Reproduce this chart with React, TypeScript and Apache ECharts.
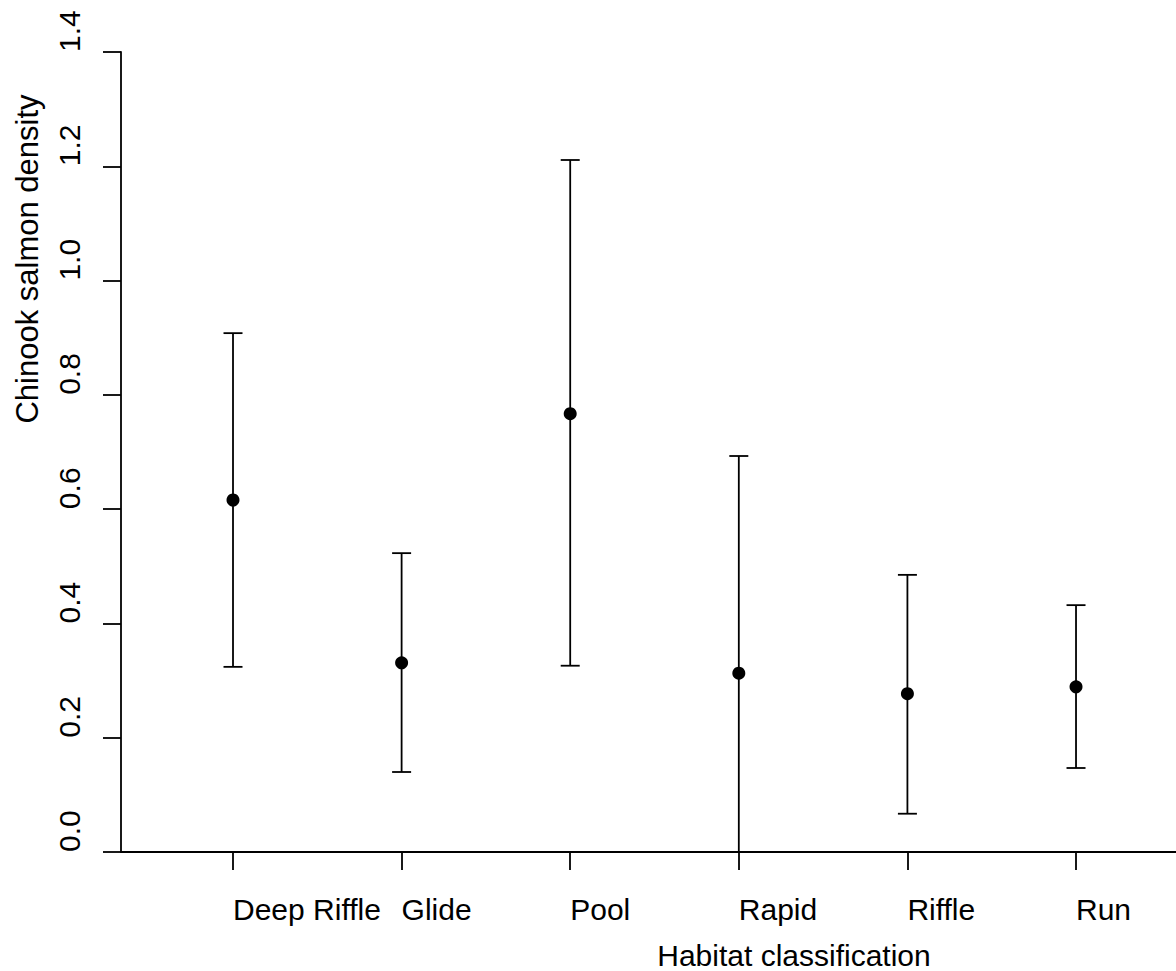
import React, { useEffect, useRef } from "react";
import * as echarts from "echarts";

const categories = ["Deep Riffle", "Glide", "Pool", "Rapid", "Riffle", "Run"];
const positions = [1, 2, 3, 4, 5, 6];
const means = [0.616, 0.331, 0.767, 0.313, 0.277, 0.289];
const lowers = [0.324, 0.14, 0.326, 0.0, 0.067, 0.147];
const uppers = [0.908, 0.523, 1.211, 0.693, 0.485, 0.432];
const yTicks = [0, 0.2, 0.4, 0.6, 0.8, 1.0, 1.2, 1.4];

const FONT = "Arial, 'Liberation Sans', Helvetica, sans-serif";

export default function App() {
  const ref = useRef<HTMLDivElement>(null);
  useEffect(() => {
    if (!ref.current) return;
    const chart = echarts.init(ref.current, null, { renderer: "svg" });
    const errData = positions.map((p, i) => [p, lowers[i], uppers[i]]);
    const ptData = positions.map((p, i) => [p, means[i]]);
    chart.setOption({
      animation: false,
      backgroundColor: "#ffffff",
      grid: { left: 121, top: 52, bottom: 119, right: 0, containLabel: false },
      xAxis: {
        type: "value",
        min: 0.3357,
        max: 6.593,
        splitLine: { show: false },
        axisLine: { show: true, lineStyle: { color: "#000", width: 1.8 } },
        axisTick: { show: true, customValues: positions, length: 18, lineStyle: { color: "#000", width: 1.8 } },
        axisLabel: {
          show: true,
          customValues: positions,
          formatter: (v: number) => categories[Math.round(v) - 1] ?? "",
          align: "left",
          verticalAlign: "top",
          margin: 42,
          color: "#000",
          fontSize: 30,
          fontFamily: FONT,
        },
      },
      yAxis: {
        type: "value",
        min: 0,
        max: 1.4,
        interval: 0.2,
        splitLine: { show: false },
        axisLine: { show: true, lineStyle: { color: "#000", width: 1.8 } },
        axisTick: { show: true, length: 18, lineStyle: { color: "#000", width: 1.8 } },
        axisLabel: {
          show: true,
          customValues: yTicks,
          rotate: 90,
          formatter: (v: number) => v.toFixed(1),
          align: "left",
          verticalAlign: "middle",
          margin: 52,
          color: "#000",
          fontSize: 30,
          fontFamily: FONT,
        },
      },
      graphic: [
        {
          type: "text",
          x: 794,
          y: 955,
          style: {
            text: "Habitat classification",
            font: `30px ${FONT}`,
            fill: "#000",
            textAlign: "center",
            textVerticalAlign: "middle",
            align: "center",
            verticalAlign: "middle",
          },
        },
        {
          type: "text",
          x: 27,
          y: 259,
          rotation: Math.PI / 2,
          style: {
            text: "Chinook salmon density",
            font: `31px ${FONT}`,
            fill: "#000",
            textAlign: "center",
            textVerticalAlign: "middle",
            align: "center",
            verticalAlign: "middle",
          },
        },
      ],
      series: [
        {
          type: "custom",
          data: errData,
          renderItem: (params: any, api: any) => {
            const x = api.value(0);
            const lo = api.coord([x, api.value(1)]);
            const hi = api.coord([x, api.value(2)]);
            const hw = 9.5;
            const style = { stroke: "#000", lineWidth: 1.8 };
            return {
              type: "group",
              children: [
                { type: "line", shape: { x1: lo[0], y1: lo[1], x2: hi[0], y2: hi[1] }, style },
                { type: "line", shape: { x1: hi[0] - hw, y1: hi[1], x2: hi[0] + hw, y2: hi[1] }, style },
                { type: "line", shape: { x1: lo[0] - hw, y1: lo[1], x2: lo[0] + hw, y2: lo[1] }, style },
              ],
            };
          },
          z: 2,
        },
        {
          type: "scatter",
          data: ptData,
          symbol: "circle",
          symbolSize: 13,
          itemStyle: { color: "#000", opacity: 1 },
          z: 3,
        },
      ],
    });
    return () => chart.dispose();
  }, []);
  return <div ref={ref} style={{ position: "fixed", left: 0, top: 0, width: 1176, height: 971 }} />;
}
